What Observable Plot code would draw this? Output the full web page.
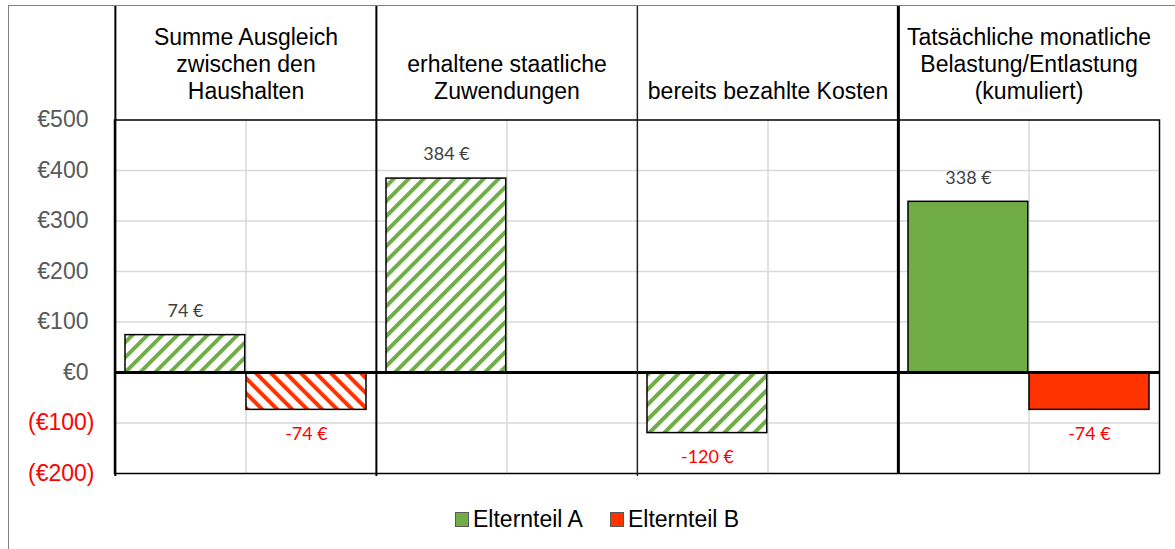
<!DOCTYPE html>
<html>
<head>
<meta charset="utf-8">
<script src="https://cdn.jsdelivr.net/npm/d3@7"></script>
<script src="https://cdn.jsdelivr.net/npm/@observablehq/plot@0.6"></script>
<style>
  html, body { margin: 0; padding: 0; background: white; }
  #wrap { position: relative; width: 1175px; height: 549px; overflow: hidden; }
  #outer { position: absolute; left: 8px; top: 5px; width: 1200px; height: 600px;
           border-left: 1.5px solid #7f7f7f; border-top: 1.5px solid #7f7f7f; pointer-events: none; }
  #legend { position: absolute; left: 455px; top: 506px; display: flex; align-items: center;
            font-family: "Liberation Sans", Arial, sans-serif; font-size: 23px; color: #000; }
  .item { display: flex; align-items: center; }
  .sw { width: 12px; height: 13px; border: 1px solid #595959; margin-right: 4px; }
</style>
</head>
<body>
<div id="wrap">
  <div id="chart"></div>
  <div id="outer"></div>
  <div id="legend"></div>
</div>
<script>
// ---- data ----
const categories = [
  "Summe Ausgleich\nzwischen den\nHaushalten",
  "erhaltene staatliche\nZuwendungen",
  "bereits bezahlte Kosten",
  "Tatsächliche monatliche\nBelastung/Entlastung\n(kumuliert)"
];
const seriesNames = ["Elternteil A", "Elternteil B"];
const valuesA = [74, 384, -120, 338];
const valuesB = [-74, null, null, -74];
const hatched = [true, true, true, false];
const yTicks = [-200, -100, 0, 100, 200, 300, 400, 500];

const greenC = "#70AD47", redC = "#FF3300";

const rows = [];
categories.forEach((c, i) => {
  if (valuesA[i] != null) rows.push({category: c, series: "A", value: valuesA[i], hatched: hatched[i]});
  if (valuesB[i] != null) rows.push({category: c, series: "B", value: valuesB[i], hatched: hatched[i]});
});

const W = 1175, H = 549;
const mL = 114, mR = 16, mT = 119.5, mB = 76;
const bw = (W - mL - mR) / categories.length;

const insA = {insetLeft: 10, insetRight: bw - 130};
const insB = {insetLeft: 131, insetRight: 10};
const fmtLabel = v => `${v} €`;

const isA = d => d.series === "A";
const isB = d => d.series === "B";

const barOpts = (filter, fill, ins) => ({
  x: "category", y1: () => 0, y2: "value", filter, fill,
  stroke: "#000", strokeWidth: 1.5, ...ins
});
const headTop = -(mT - 6);

const svg = Plot.plot({
  width: W, height: H,
  marginLeft: mL, marginRight: mR, marginTop: mT, marginBottom: mB,
  style: {fontFamily: "Liberation Sans, Arial, sans-serif", background: "transparent", overflow: "visible"},
  x: {type: "band", domain: categories, padding: 0, axis: null},
  y: {domain: [-200, 500], axis: null},
  marks: [
    // horizontal gridlines
    Plot.ruleY(yTicks.filter(t => t !== 0 && t !== 500 && t !== -200), {stroke: "#d9d9d9", strokeWidth: 1.5}),
    // vertical gridlines at category centres
    Plot.ruleX(categories, {x: d => d, y1: 500, y2: -200, stroke: "#d9d9d9", strokeWidth: 1.5}),
    // bars
    Plot.barY(rows, barOpts(d => isA(d) && d.hatched, "url(#hatchA)", insA)),
    Plot.barY(rows, barOpts(d => isB(d) && d.hatched, "url(#hatchB)", insB)),
    Plot.barY(rows, barOpts(d => isA(d) && !d.hatched, greenC, insA)),
    Plot.barY(rows, barOpts(d => isB(d) && !d.hatched, redC, insB)),
    // frame lines
    Plot.frame({stroke: "#000", strokeWidth: 1.5}),
    Plot.ruleY([0], {stroke: "#000", strokeWidth: 3}),
    Plot.ruleX(categories.slice(0, 2), {x: d => d, y1: 500, y2: -200, dx: -bw / 2, insetTop: headTop, insetBottom: -3, stroke: "#000", strokeWidth: 2}),
    Plot.ruleX(categories.slice(2, 3), {x: d => d, y1: 500, y2: -200, dx: -bw / 2, insetTop: headTop, insetBottom: -3, stroke: "#222", strokeWidth: 1.5}),
    Plot.ruleX(categories.slice(3, 4), {x: d => d, y1: 500, y2: -200, dx: -bw / 2, insetTop: headTop, insetBottom: 0, stroke: "#000", strokeWidth: 3}),
    // header texts
    Plot.text(categories, {x: d => d, text: d => d, frameAnchor: "top", dy: -21.5, lineAnchor: "bottom",
      lineHeight: 1.17, fontSize: 23, fill: "#000"}),
    // y tick labels
    Plot.text(yTicks.filter(t => t >= 0), {y: d => d, text: d => `€${d}`, frameAnchor: "left", dx: -26,
      textAnchor: "end", fontSize: 23, fill: "#595959", lineAnchor: "middle"}),
    Plot.text(yTicks.filter(t => t < 0), {y: d => d, text: d => `(€${-d})`, frameAnchor: "left", dx: -20,
      textAnchor: "end", fontSize: 23, fill: "#FF0000", lineAnchor: "middle"}),
    // value labels
    Plot.text(rows, {filter: d => isA(d) && d.value >= 0, x: "category", y: "value", text: d => fmtLabel(d.value),
      dx: -60.5, dy: -24, fontFamily: "Lato, sans-serif", fontSize: 18, fill: "#404040"}),
    Plot.text(rows, {filter: d => isA(d) && d.value < 0, x: "category", y: "value", text: d => fmtLabel(d.value),
      dx: -60.5, dy: 24, fontFamily: "Lato, sans-serif", fontSize: 18, fill: "#FF0000"}),
    Plot.text(rows, {filter: d => isB(d) && d.value < 0, x: "category", y: "value", text: d => fmtLabel(d.value),
      dx: 60.5, dy: 24, fontFamily: "Lato, sans-serif", fontSize: 18, fill: "#FF0000"}),
    Plot.text(rows, {filter: d => isB(d) && d.value >= 0, x: "category", y: "value", text: d => fmtLabel(d.value),
      dx: 60.5, dy: -24, fontFamily: "Lato, sans-serif", fontSize: 18, fill: "#404040"})
  ]
});

// hatch patterns
const defs = d3.select(svg).insert("defs", ":first-child");
function hatch(id, color, angle) {
  const p = defs.append("pattern").attr("id", id).attr("patternUnits", "userSpaceOnUse")
    .attr("width", 10.6).attr("height", 10.6).attr("patternTransform", `rotate(${angle})`);
  p.append("rect").attr("width", 10.6).attr("height", 10.6).attr("fill", "white");
  p.append("rect").attr("width", 4).attr("height", 10.6).attr("fill", color);
}
hatch("hatchA", greenC, 45);
hatch("hatchB", redC, -45);

document.getElementById("chart").appendChild(svg);

// legend
const legend = d3.select("#legend");
[[seriesNames[0], greenC], [seriesNames[1], redC]].forEach(([name, col], i) => {
  const it = legend.append("div").attr("class", "item").style("margin-left", i ? "27px" : "0");
  it.append("div").attr("class", "sw").style("background", col);
  it.append("span").text(name);
});
</script>
</body>
</html>
